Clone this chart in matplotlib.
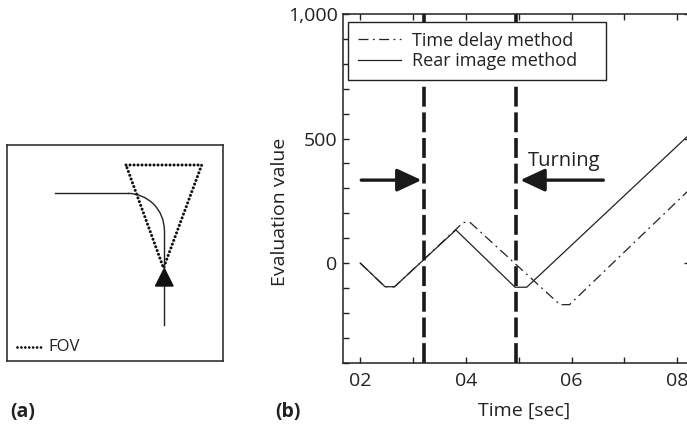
import numpy as np
import matplotlib
matplotlib.use("Agg")
import matplotlib.pyplot as plt
from matplotlib.patches import Rectangle, Arc, Polygon
from matplotlib.ticker import MultipleLocator

plt.rcParams['font.family'] = ['Open Sans', 'DejaVu Sans']

# ---------------- data (panel b) ----------------
rear_t = [2.0, 2.47, 2.65, 3.81, 4.93, 5.15, 8.4]
rear_v = [0, -95, -95, 133, -97, -97, 550]
delay_t = [2.0, 2.47, 2.65, 3.95, 4.08, 5.78, 5.96, 8.4]
delay_v = [0, -95, -95, 163, 163, -167, -167, 330]
turn_lines = [3.2, 4.95]
arrow_left = [(2.02, 333), (3.16, 333)]
arrow_right = [(6.6, 333), (5.03, 333)]
turn_label = (5.18, 409)
xticks = [2, 4, 6, 8]
xticklabels = ["02", "04", "06", "08"]
yticks = [0, 500, 1000]
yticklabels = ["0", "500", "1,000"]

# ---------------- data (panel a, schematic in box pixel units) ----------------
fov_tri = [(119, 20), (194.7, 20), (156.5, 123)]
path_h = [(48, 48.3), (120.7, 48.3)]
arc_center = (120.7, 85)
arc_r = 36.6
path_v = [(157.3, 85), (157.3, 124)]
car_head = [(157.3, 123.5), (148.5, 141), (166.1, 141)]
car_tail = [(157.3, 141), (157.3, 180)]
fov_leg = [(10.3, 202.3), (33.7, 202.3)]

W, H = 687, 434
fig = plt.figure(figsize=(W / 100, H / 100), dpi=100)

# ---------------- panel (a) ----------------
axa = fig.add_axes([7 / W, 1 - 361 / H, 216 / W, 216 / H])
axa.set_xlim(0, 216)
axa.set_ylim(216, 0)
axa.set_xticks([])
axa.set_yticks([])
for s in axa.spines.values():
    s.set_linewidth(1.1)
    s.set_color('#222222')

tri = list(fov_tri) + [fov_tri[0]]
axa.plot([p[0] for p in tri], [p[1] for p in tri], linestyle=(0, (0.01, 1.3)),
         lw=2.2, color='#111111', solid_capstyle='round', dash_capstyle='round')
axa.plot([p[0] for p in path_h], [p[1] for p in path_h], color='#222222', lw=1.0)
axa.add_patch(Arc(arc_center, 2 * arc_r, 2 * arc_r, theta1=270, theta2=360,
                  color='#222222', lw=1.0))
axa.plot([p[0] for p in path_v], [p[1] for p in path_v], color='#222222', lw=1.0)
axa.add_patch(Polygon(car_head, closed=True, color='#111111'))
axa.plot([p[0] for p in car_tail], [p[1] for p in car_tail], color='#222222', lw=1.0)
axa.plot([p[0] for p in fov_leg], [p[1] for p in fov_leg], linestyle=(0, (0.01, 1.4)),
         lw=2.0, color='#111111', dash_capstyle='round')
axa.text(41, 202.3, "FOV", fontsize=12, va='center', ha='left', color='#222222')

fig.text(23 / W, 1 - 412 / H, "(a)", fontsize=14, fontweight='bold', ha='center',
         va='center', color='#222222')

# ---------------- panel (b) ----------------
x_left, x_right = 1.68, 8.24
ax_w_px = 690 - 343.3
ax = fig.add_axes([343.3 / W, 1 - 362.7 / H, ax_w_px / W, 348.7 / H])
ax.set_xlim(x_left, x_right)
ax.set_ylim(-400, 1000)

ax.plot(delay_t, delay_v, color='#222222', lw=0.9, linestyle=(0, (8, 3.5, 1.5, 3.5)),
        label="Time delay method")
ax.plot(rear_t, rear_v, color='#222222', lw=0.9, label="Rear image method")

for xv in turn_lines:
    ax.axvline(xv, color='#1a1a1a', lw=2.6, linestyle=(0, (5.5, 1.6)))

for (p0, p1) in (arrow_left, arrow_right):
    ax.annotate("", xy=p1, xytext=p0,
                arrowprops=dict(arrowstyle='-|>,head_length=0.75,head_width=0.35',
                                lw=2.4, color='#1a1a1a', shrinkA=0, shrinkB=0,
                                mutation_scale=20))
ax.text(turn_label[0], turn_label[1], "Turning", fontsize=14.5, ha='left', va='center',
        color='#222222')

ax.set_xticks(xticks)
ax.set_xticklabels(xticklabels)
ax.xaxis.set_minor_locator(MultipleLocator(1))
ax.set_yticks(yticks)
ax.set_yticklabels(yticklabels)
ax.yaxis.set_minor_locator(MultipleLocator(100))
ax.tick_params(which='both', direction='in', length=4, width=1.0, colors='#222222',
               top=True, right=True, labelsize=14)
ax.tick_params(axis='y', which='minor', right=False)
ax.tick_params(axis='x', pad=7)
ax.tick_params(axis='y', pad=4)
for s in ax.spines.values():
    s.set_linewidth(1.1)
    s.set_color('#222222')

leg_w = (606 - 347.7) / ax_w_px
leg_h = (79 - 21.7) / 348.7
leg_x = (347.7 - 343.3) / ax_w_px
leg_top = (362.7 - 21.7) / 348.7
leg = ax.legend(loc='upper left', bbox_to_anchor=(leg_x, leg_top - leg_h, leg_w, leg_h),
                mode='expand', borderaxespad=0,
                fancybox=False, edgecolor='#222222', framealpha=1, fontsize=13,
                handlelength=2.4, handletextpad=0.6, labelspacing=0.15,
                borderpad=0.55)
leg.get_frame().set_linewidth(1.0)
for t in leg.get_texts():
    t.set_color('#222222')

fig.text(280 / W, 1 - 212 / H, "Evaluation value", rotation=90, fontsize=14,
         ha='center', va='center', color='#222222')
fig.text(524 / W, 1 - 411 / H, "Time [sec]", fontsize=14, ha='center', va='center',
         color='#222222')
fig.text(288 / W, 1 - 412 / H, "(b)", fontsize=14, fontweight='bold', ha='center',
         va='center', color='#222222')

fig.savefig("out.png", dpi=100)
